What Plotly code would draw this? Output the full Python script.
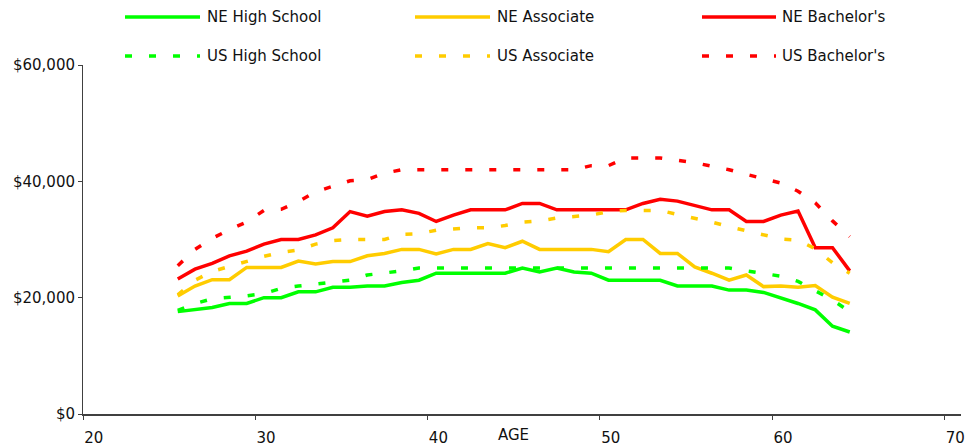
import plotly.graph_objects as go

# ---------------- data ----------------
ages = list(range(25, 65))  # age in years (plotted at mid-year)

ne_high_school = [17600, 18000, 18300, 19000, 19000, 20000, 20000, 21000, 21000, 21800,
                  21800, 22000, 22000, 22600, 23000, 24200, 24200, 24200, 24200, 24200,
                  25100, 24400, 25100, 24400, 24200, 23000, 23000, 23000, 23000, 22000,
                  22000, 22000, 21300, 21300, 20900, 20000, 19000, 17900, 15100, 14100]
ne_associate = [20300, 22000, 23100, 23100, 25200, 25200, 25200, 26300, 25800, 26200,
                26200, 27200, 27600, 28300, 28300, 27500, 28300, 28300, 29300, 28600,
                29700, 28300, 28300, 28300, 28300, 27900, 30000, 30000, 27600, 27600,
                25300, 24200, 23000, 23900, 21900, 22000, 21800, 22100, 20100, 19000]
ne_bachelors = [23200, 24900, 25900, 27200, 28000, 29200, 30000, 30000, 30800, 32000,
                34800, 34000, 34800, 35100, 34500, 33100, 34200, 35100, 35100, 35100,
                36200, 36200, 35100, 35100, 35100, 35100, 35100, 36200, 36900, 36600,
                35900, 35100, 35100, 33100, 33100, 34200, 34900, 28600, 28600, 24600]
us_high_school = [17800, 19000, 19800, 20000, 20300, 20700, 21600, 22000, 22300, 22700,
                  23000, 23900, 24200, 24600, 25100, 25100, 25100, 25100, 25100, 25100,
                  25100, 25100, 25100, 25100, 25100, 25100, 25100, 25100, 25100, 25100,
                  25100, 25100, 25100, 24600, 24100, 23700, 22800, 21200, 19600, 17600]
us_associate = [20500, 23000, 24500, 25400, 26300, 27100, 27800, 28200, 29200, 29800,
                30000, 30000, 30000, 30900, 31000, 31600, 31800, 32000, 32000, 32400,
                33000, 33200, 33700, 34000, 34200, 34800, 35000, 35000, 35000, 34300,
                33700, 33000, 32200, 31500, 30800, 30100, 29900, 28400, 26000, 24200]
us_bachelors = [25500, 28300, 30200, 31700, 33000, 35000, 35200, 36500, 38200, 39200,
                40100, 40300, 41400, 42000, 42000, 42000, 42000, 42000, 42000, 42000,
                42000, 42000, 42000, 42000, 42700, 42700, 44000, 44000, 44000, 43600,
                43200, 42600, 42000, 41200, 40400, 39700, 38300, 36300, 33200, 30500]

x_ticks = [20, 30, 40, 50, 60, 70]
y_ticks = [0, 20000, 40000, 60000]
y_tick_labels = ["$0", "$20,000", "$40,000", "$60,000"]

series_names = ["NE High School", "NE Associate", "NE Bachelor's",
                "US High School", "US Associate", "US Bachelor's"]
series_values = [ne_high_school, ne_associate, ne_bachelors,
                 us_high_school, us_associate, us_bachelors]
series_colors = ["#00FF00", "#FFCC00", "#FF0000", "#00FF00", "#FFCC00", "#FF0000"]
series_dash = ["solid", "solid", "solid", "7px,17px", "7px,17px", "7px,17px"]

# ---------------- figure ----------------
W, H = 967, 447
ML, MR, MT, MB = 83, 6, 65, 33
FONT = "Verdana, DejaVu Sans, sans-serif"

x_mid = [a + 0.5 for a in ages]

fig = go.Figure()
for name, vals, col, dash in zip(series_names, series_values, series_colors, series_dash):
    fig.add_trace(go.Scatter(x=x_mid, y=vals, mode="lines", name=name,
                             line=dict(color=col, width=3.5, dash=dash),
                             showlegend=False, hoverinfo="x+y+name"))

plot_w = W - ML - MR
plot_h = H - MT - MB


def xp(px):
    return (px - ML) / plot_w


def yp(py):
    return (H - MB - py) / plot_h


# custom legend (two rows, three columns) with long line samples
legend_cols = [(125, 200, 205), (415, 490, 495), (702, 776, 780)]
legend_rows = [17, 56]
shapes = []
annotations = []
for i, (name, col, dash) in enumerate(zip(series_names, series_colors, series_dash)):
    row = i // 3
    c = i % 3
    x0, x1, xt = legend_cols[c]
    yy = yp(legend_rows[row])
    shapes.append(dict(type="line", xref="paper", yref="paper",
                       x0=xp(x0), x1=xp(x1), y0=yy, y1=yy,
                       line=dict(color=col, width=3.5, dash=dash)))
    annotations.append(dict(text=name, xref="paper", yref="paper",
                            x=xp(xt), y=yy, xanchor="left", yanchor="middle",
                            showarrow=False, font=dict(family=FONT, size=15, color="#111")))

annotations.append(dict(text="AGE", xref="x", yref="paper", x=45, y=yp(435),
                        xanchor="center", yanchor="middle", showarrow=False,
                        font=dict(family=FONT, size=15, color="#111")))

fig.update_layout(
    width=W, height=H,
    margin=dict(l=ML, r=MR, t=MT, b=MB, pad=0, autoexpand=False),
    paper_bgcolor="white", plot_bgcolor="white",
    font=dict(family=FONT, size=15, color="#111"),
    shapes=shapes, annotations=annotations,
    xaxis=dict(range=[20, 20 + plot_w / 17.23], tickvals=x_ticks,
               automargin=False,
               showgrid=False, zeroline=False, showline=True,
               linecolor="#404040", linewidth=1.5,
               ticks="outside", ticklen=4, tickcolor="#404040",
               ticklabelposition="outside right", ticklabeloverflow="allow",
               ticklabelstandoff=9,
               tickfont=dict(family=FONT, size=15, color="#111")),
    yaxis=dict(range=[0, 60000], tickvals=y_ticks, ticktext=y_tick_labels,
               automargin=False,
               showgrid=False, zeroline=False, showline=True,
               linecolor="#404040", linewidth=1,
               ticks="outside", ticklen=4, tickcolor="#404040",
               tickfont=dict(family=FONT, size=15, color="#111")),
)

fig.write_html("out.html",
               config={"displayModeBar": False},
               post_script="document.body.style.margin='0px';document.body.style.overflow='hidden';")
